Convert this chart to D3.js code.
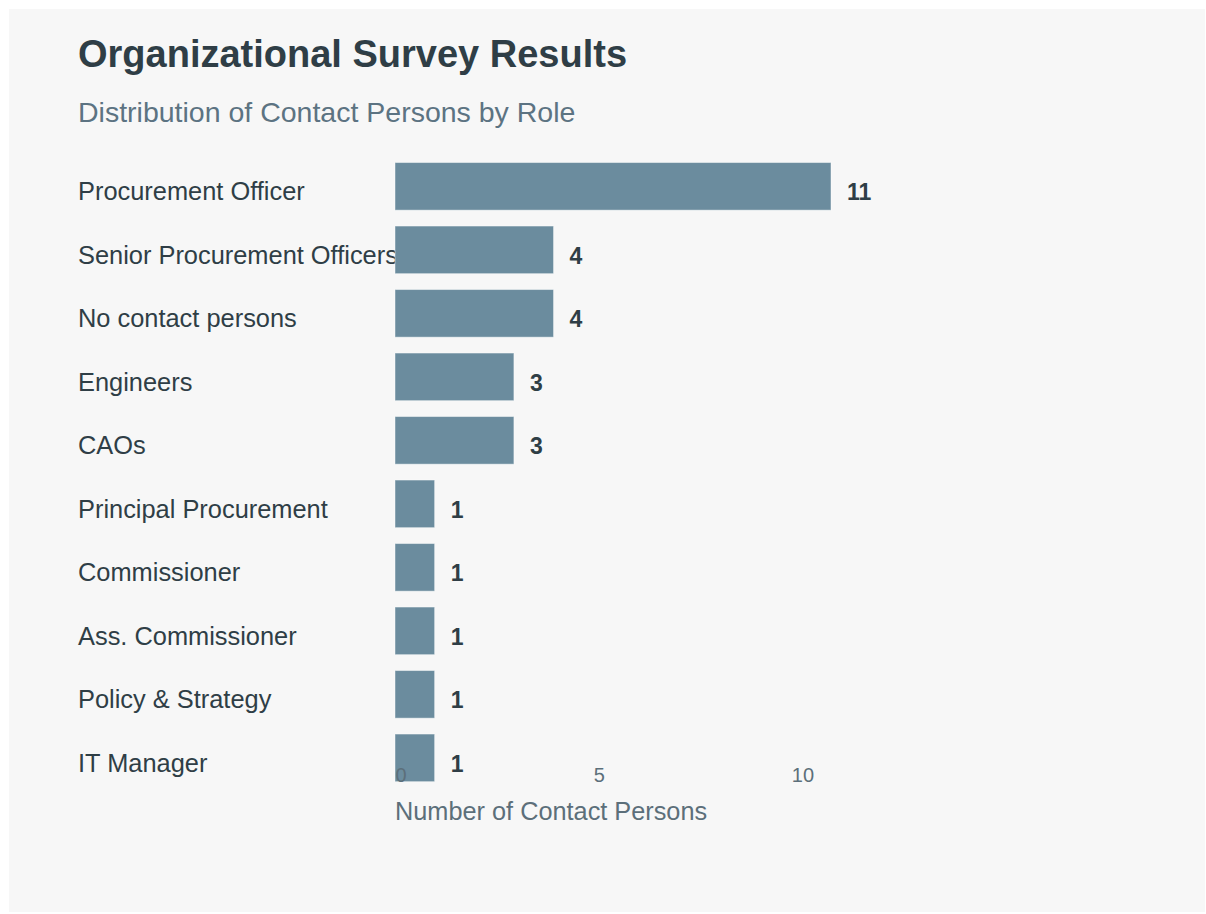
<!DOCTYPE html>
<html>
<head>
<meta charset="utf-8">
<script src="https://cdn.jsdelivr.net/npm/d3@7"></script>
<style>
  html, body { margin: 0; padding: 0; background: #ffffff; }
  svg { display: block; font-family: "Liberation Sans", Arial, Helvetica, sans-serif; }
</style>
</head>
<body>
<svg id="chart" width="1206" height="914"></svg>
<script>
// Survey counts by contact role
const roles = [
  "Procurement Officer",
  "Senior Procurement Officers",
  "No contact persons",
  "Engineers",
  "CAOs",
  "Principal Procurement",
  "Commissioner",
  "Ass. Commissioner",
  "Policy & Strategy",
  "IT Manager"
];
const counts = [11, 4, 4, 3, 3, 1, 1, 1, 1, 1];
const xTicks = [0, 5, 10];

const data = roles.map((r, i) => ({ role: r, count: counts[i] }));

const svg = d3.select("#chart");

// card background
svg.append("rect")
  .attr("x", 9).attr("y", 9)
  .attr("width", 1196).attr("height", 903)
  .attr("fill", "#f7f7f7");

svg.append("text")
  .attr("x", 78).attr("y", 67)
  .attr("fill", "#2f3e46")
  .attr("font-size", 38)
  .attr("font-weight", "bold")
  .text("Organizational Survey Results");

svg.append("text")
  .attr("x", 78).attr("y", 121.5)
  .attr("fill", "#5c7382")
  .attr("font-size", 28.5)
  .text("Distribution of Contact Persons by Role");

const x = d3.scaleLinear().domain([0, 11]).range([395, 831]);
const y = d3.scaleBand()
  .domain(roles)
  .range([154.6, 789.6])
  .paddingInner(0.25)
  .paddingOuter(0.125);

// role labels sit underneath the bars
svg.append("g").selectAll("text")
  .data(data)
  .join("text")
  .attr("x", 78)
  .attr("y", d => y(d.role) + y.bandwidth() / 2 + 14)
  .attr("fill", "#2f3e46")
  .attr("font-size", 25.4)
  .text(d => d.role);

svg.append("g").selectAll("rect")
  .data(data)
  .join("rect")
  .attr("x", x(0))
  .attr("y", d => y(d.role))
  .attr("width", d => x(d.count) - x(0))
  .attr("height", y.bandwidth())
  .attr("fill", "#6b8c9e")
  .attr("stroke", "rgba(255,255,255,0.45)")
  .attr("stroke-width", 1);

svg.append("g").selectAll("text")
  .data(data)
  .join("text")
  .attr("x", d => x(d.count) + 16)
  .attr("y", d => y(d.role) + y.bandwidth() / 2 + 14)
  .attr("fill", "#2f3e46")
  .attr("font-size", 23)
  .attr("font-weight", "bold")
  .text(d => d.count);

// x axis: tick labels only, left-aligned on each tick
const axis = svg.append("g")
  .attr("transform", "translate(0,782)")
  .call(d3.axisBottom(x).tickValues(xTicks).tickSize(0).tickPadding(0));
axis.select(".domain").remove();
axis.selectAll("text")
  .attr("dy", null)
  .attr("text-anchor", "start")
  .attr("font-family", "Liberation Sans, Arial, sans-serif")
  .attr("font-size", 20)
  .attr("fill", "#5c6f7a");

svg.append("text")
  .attr("x", 395).attr("y", 820)
  .attr("fill", "#5c6f7a")
  .attr("font-size", 25.3)
  .text("Number of Contact Persons");
</script>
</body>
</html>
